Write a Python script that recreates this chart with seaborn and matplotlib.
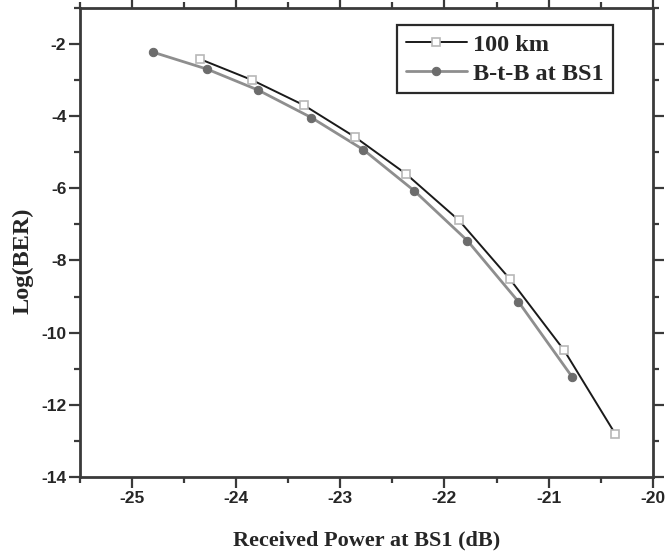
import pandas as pd
import seaborn as sns
from matplotlib import pyplot as plt
from matplotlib.ticker import MultipleLocator

# values
power_100km = [-24.35, -23.85, -23.35, -22.86, -22.37, -21.86, -21.37, -20.85, -20.36]
ber_100km = [-2.42, -3.00, -3.70, -4.58, -5.60, -6.89, -8.52, -10.49, -12.80]

power_btb = [-24.80, -24.28, -23.79, -23.28, -22.78, -22.29, -21.78, -21.29, -20.77]
ber_btb = [-2.23, -2.70, -3.28, -4.04, -4.93, -6.07, -7.45, -9.14, -11.24]

x_ticks = [-25, -24, -23, -22, -21, -20]
y_ticks = [-14, -12, -10, -8, -6, -4, -2]

df_100 = pd.DataFrame({'Power': power_100km, 'BER': ber_100km})
df_btb = pd.DataFrame({'Power': power_btb, 'BER': ber_btb})

sns.set_theme(style='ticks')
plt.rcParams['font.family'] = ['Liberation Sans', 'DejaVu Sans']

fig = plt.figure(figsize=(6.68, 5.56), dpi=100)
ax = fig.add_axes([0.12, 0.142, 0.857, 0.844])

sns.lineplot(data=df_btb, x='Power', y='BER', ax=ax, color='#8e8e8e', lw=2.0,
             marker='o', markersize=6, markerfacecolor='#6c6c6c',
             markeredgecolor='#6c6c6c', label='B-t-B at BS1', sort=False)
sns.lineplot(data=df_100, x='Power', y='BER', ax=ax, color='#1a1a1a', lw=1.4,
             marker='s', markersize=6, markerfacecolor='white',
             markeredgecolor='#b8b8b8', markeredgewidth=1.2, label='100 km', sort=False)

ax.set_xlim(-25.5, -20)
ax.set_ylim(-14, -1)
ax.set_xticks(x_ticks)
ax.set_yticks(y_ticks)
ax.set_xticklabels([str(t) for t in x_ticks])
ax.set_yticklabels([str(t) for t in y_ticks])
ax.xaxis.set_minor_locator(MultipleLocator(0.5))
ax.yaxis.set_minor_locator(MultipleLocator(1))

for s in ax.spines.values():
    s.set_linewidth(2)
    s.set_color('#3a3a3a')

ax.tick_params(axis='both', which='major', length=8, width=1.6,
               color='#3a3a3a', labelsize=12.5, pad=2)
ax.tick_params(axis='both', which='minor', length=4, width=1.6, color='#3a3a3a')
ax.tick_params(top=True, right=True, which='both', direction='in')
ax.tick_params(bottom=True, left=True, which='both', direction='out')
for lab in ax.get_xticklabels() + ax.get_yticklabels():
    lab.set_fontweight('bold')

serif = ['Liberation Serif', 'DejaVu Serif']
ax.set_xlabel('Received Power at BS1 (dB)', family=serif, fontweight='bold',
              fontsize=16, labelpad=18)
ax.set_ylabel('Log(BER)', family=serif, fontweight='bold', fontsize=17.5)
ax.yaxis.set_label_coords(-0.082, 0.46)

handles, labels = ax.get_legend_handles_labels()
leg = ax.legend(handles[::-1], labels[::-1], loc='upper right',
                bbox_to_anchor=(0.93, 0.964), borderaxespad=0, fancybox=False,
                handlelength=2.5, handletextpad=0.25, borderpad=0.37,
                labelspacing=0.28, prop={'family': serif, 'weight': 'bold', 'size': 17.5})
leg.get_frame().set_edgecolor('#2a2a2a')
leg.get_frame().set_linewidth(1.6)
leg.get_frame().set_alpha(1)

fig.savefig('out.png', dpi=100)
